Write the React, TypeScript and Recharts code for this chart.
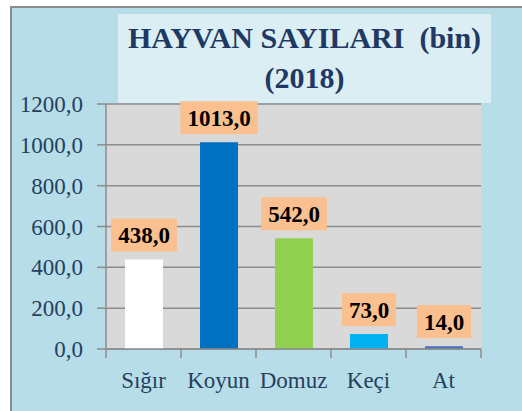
import React from 'react';
import { BarChart, Bar, XAxis, YAxis, CartesianGrid, LabelList, Cell } from 'recharts';

const categories = ['Sığır', 'Koyun', 'Domuz', 'Keçi', 'At'];
const values = [438, 1013, 542, 73, 14];
const barColors = ['#ffffff', '#0070c0', '#92d050', '#00b0f0', '#4a6fbf'];
const yTicks = [0, 200, 400, 600, 800, 1000, 1200];

const data = categories.map((name, i) => ({ name, value: values[i] }));

const fmt = (v: number) => v.toFixed(1).replace('.', ',');
const SERIF = "'Liberation Serif', 'Times New Roman', Tinos, 'DejaVu Serif', serif";
const AXIS_COLOR = '#254061';
const LINE_COLOR = '#8c8c8c';
const X_TICK_SIZE = 9;
const X_TICK_MARGIN = 10;
const LABEL_FONT = 23;

// tick marks sit on the category boundaries, like in Excel
const CategoryTick = (props: any) => {
  const { x, y, payload, index } = props;
  const half = payload.offset ?? 0;
  const axisY = y - X_TICK_SIZE - X_TICK_MARGIN;
  const last = index === categories.length - 1;
  return (
    <g>
      <line x1={x - half} x2={x - half} y1={axisY} y2={axisY + X_TICK_SIZE} stroke={LINE_COLOR} strokeWidth={1.5} />
      {last && (
        <line x1={x + half} x2={x + half} y1={axisY} y2={axisY + X_TICK_SIZE} stroke={LINE_COLOR} strokeWidth={1.5} />
      )}
      <text x={x} y={axisY + 39} textAnchor="middle" fill={AXIS_COLOR} fontSize={LABEL_FONT} style={{ fontFamily: SERIF }}>
        {payload.value}
      </text>
    </g>
  );
};

const ValueLabel = (props: any) => {
  const { x, y, width, value } = props;
  const text = fmt(Number(value));
  // digits are half an em wide in Times, the comma a quarter
  const textW = ((text.length - 1) * 0.5 + 0.25) * LABEL_FONT;
  const w = textW + 14;
  const h = 33;
  const cx = x + width / 2;
  const bottom = y - 8;
  return (
    <g>
      <rect x={cx - w / 2} y={bottom - h} width={w} height={h} fill="#fac090" />
      <text
        x={cx}
        y={bottom - h / 2}
        dy="0.35em"
        textAnchor="middle"
        fontSize={LABEL_FONT}
        fontWeight="bold"
        style={{ fontFamily: SERIF }}
        fill="#000"
      >
        {text}
      </text>
    </g>
  );
};

const App: React.FC = () => {
  return (
    <div style={{ position: 'absolute', left: 0, top: 0, width: 522, height: 411, background: '#fff', overflow: 'hidden' }}>
      <div
        style={{
          position: 'absolute',
          left: 10,
          top: 6,
          width: 520,
          height: 410,
          background: '#b7dde8',
          borderLeft: '2px solid #8c8c8c',
          borderTop: '2px solid #8c8c8c',
        }}
      />
      <div
        style={{
          position: 'absolute',
          left: 118,
          top: 14,
          width: 373,
          height: 89,
          background: '#daeef3',
          color: '#1f3864',
          fontFamily: SERIF,
          fontWeight: 'bold',
          fontSize: 30,
          textAlign: 'center',
          lineHeight: '40px',
          paddingTop: 4,
          boxSizing: 'border-box',
          whiteSpace: 'nowrap',
        }}
      >
        <div>HAYVAN SAYILARI&nbsp; (bin)</div>
        <div>(2018)</div>
      </div>
      <div style={{ position: 'absolute', left: 0, top: 0 }}>
        <BarChart width={522} height={411} data={data} margin={{ top: 104, right: 41, bottom: 22, left: 16 }}>
          <CartesianGrid vertical={false} fill="#d9d9d9" stroke={LINE_COLOR} strokeWidth={1.5} />
          <XAxis
            dataKey="name"
            height={40}
            axisLine={{ stroke: LINE_COLOR, strokeWidth: 1.5 }}
            tickLine={false}
            tickSize={X_TICK_SIZE}
            tickMargin={X_TICK_MARGIN}
            tick={<CategoryTick />}
            interval={0}
          />
          <YAxis
            width={90}
            domain={[0, 1200]}
            ticks={yTicks}
            tickFormatter={fmt}
            axisLine={{ stroke: LINE_COLOR, strokeWidth: 1.5 }}
            tickLine={{ stroke: LINE_COLOR, strokeWidth: 1.5 }}
            tickSize={9}
            tickMargin={14}
            tick={{ fill: AXIS_COLOR, fontSize: LABEL_FONT, style: { fontFamily: SERIF } }}
          />
          <Bar dataKey="value" barSize={38} isAnimationActive={false}>
            {data.map((d, i) => (
              <Cell key={d.name} fill={barColors[i]} />
            ))}
            <LabelList dataKey="value" content={<ValueLabel />} />
          </Bar>
        </BarChart>
      </div>
    </div>
  );
};

export default App;
